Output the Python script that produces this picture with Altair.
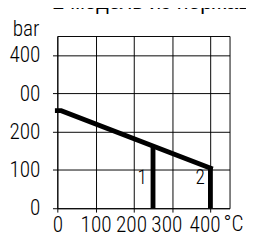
import altair as alt
import pandas as pd

# data
curve_t = [0, 10, 400]
curve_p = [255, 255, 105]
drop_t = [250, 400]
drop_p = [163, 105]
drop_lbl = ["1", "2"]
lbl_t = [222, 373]
lbl_p = [79, 79]
grid_vals = [0, 50, 100, 150, 200, 250, 300, 350, 400, 450]
header_text = "2 модель из нержавеющей стали"

FONT = "Roboto Condensed"
FS = 22
FW = 300

curve = pd.DataFrame({"t": curve_t, "p": curve_p})
drops = pd.DataFrame({"t": drop_t, "p": drop_p, "p0": [0] * len(drop_t)})
lbls = pd.DataFrame({"t": lbl_t, "p": lbl_p, "s": drop_lbl})

xs = alt.Scale(domain=[0, 450], nice=False)
ys = alt.Scale(domain=[0, 450], nice=False)

x_axis = alt.Axis(
    values=grid_vals, grid=True, gridColor="black", gridWidth=1, gridOpacity=1,
    domain=False, tickColor="black", tickSize=4,
    tickOpacity={"condition": {"test": "datum.value % 100 != 0 || datum.value > 400", "value": 0}, "value": 1},
    labelExpr="datum.value % 100 == 0 && datum.value <= 400 ? datum.label : ''",
    labelFont=FONT, labelFontSize=FS, labelFontWeight=FW, labelColor="black", labelPadding=3,
    labelFlush=False, labelOverlap=False, labelBaseline="top",
    labelOffset={"condition": [
        {"test": "datum.value == 200", "value": -3},
        {"test": "datum.value >= 300", "value": -6},
    ], "value": 0},
    title=None,
)
y_axis = alt.Axis(
    values=grid_vals, grid=True, gridColor="black", gridWidth=1, gridOpacity=1,
    domain=False, tickColor="black", tickSize=5,
    tickOpacity={"condition": {"test": "datum.value % 100 != 0 || datum.value > 400", "value": 0}, "value": 1},
    labelExpr="datum.value == 300 ? '00' : (datum.value % 100 == 0 && datum.value <= 400 ? datum.label : '')",
    labelFont=FONT, labelFontSize=FS, labelFontWeight=FW, labelColor="black", labelPadding=13,
    labelFlush=False, labelOverlap=False, labelBaseline="middle",
    title="bar", titleAngle=0, titleX=-19, titleY=-1, titleAlign="right",
    titleBaseline="alphabetic", titleFont=FONT, titleFontSize=FS,
    titleFontWeight=FW, titleColor="black",
)

line = alt.Chart(curve).mark_line(color="black", strokeWidth=5, strokeCap="square").encode(
    x=alt.X("t:Q", scale=xs, axis=x_axis),
    y=alt.Y("p:Q", scale=ys, axis=y_axis),
)

rules = alt.Chart(drops).mark_rule(color="black", strokeWidth=5).encode(
    x=alt.X("t:Q", scale=xs), y=alt.Y("p:Q", scale=ys), y2="p0:Q"
)

nums = alt.Chart(lbls).mark_text(font=FONT, fontSize=20, fontWeight=FW, color="black",
                                 align="center", baseline="middle").encode(
    x=alt.X("t:Q", scale=xs), y=alt.Y("p:Q", scale=ys), text="s:N"
)

unit = alt.Chart(pd.DataFrame({"t": [450], "s": ["°C"]})).mark_text(
    font=FONT, fontSize=FS, fontWeight=FW, color="black", align="center", baseline="top", dx=4, dy=7
).encode(x=alt.X("t:Q", scale=xs), y=alt.value(178), text="s:N")

header = alt.Chart(pd.DataFrame({"s": [header_text]})).mark_text(
    font="Liberation Sans", fontSize=22, color="black", align="left", baseline="alphabetic"
).encode(x=alt.value(-5), y=alt.value(-28), text="s:N")

chart = alt.layer(line, rules, nums, unit, header).properties(
    width=178, height=178,
    autosize=alt.AutoSizeParams(type="none"),
    padding={"left": 51, "top": 25, "right": 17, "bottom": 33},
).configure_view(stroke="black", strokeWidth=1)

chart.save("out.html", embed_options={"renderer": "svg", "actions": False})
